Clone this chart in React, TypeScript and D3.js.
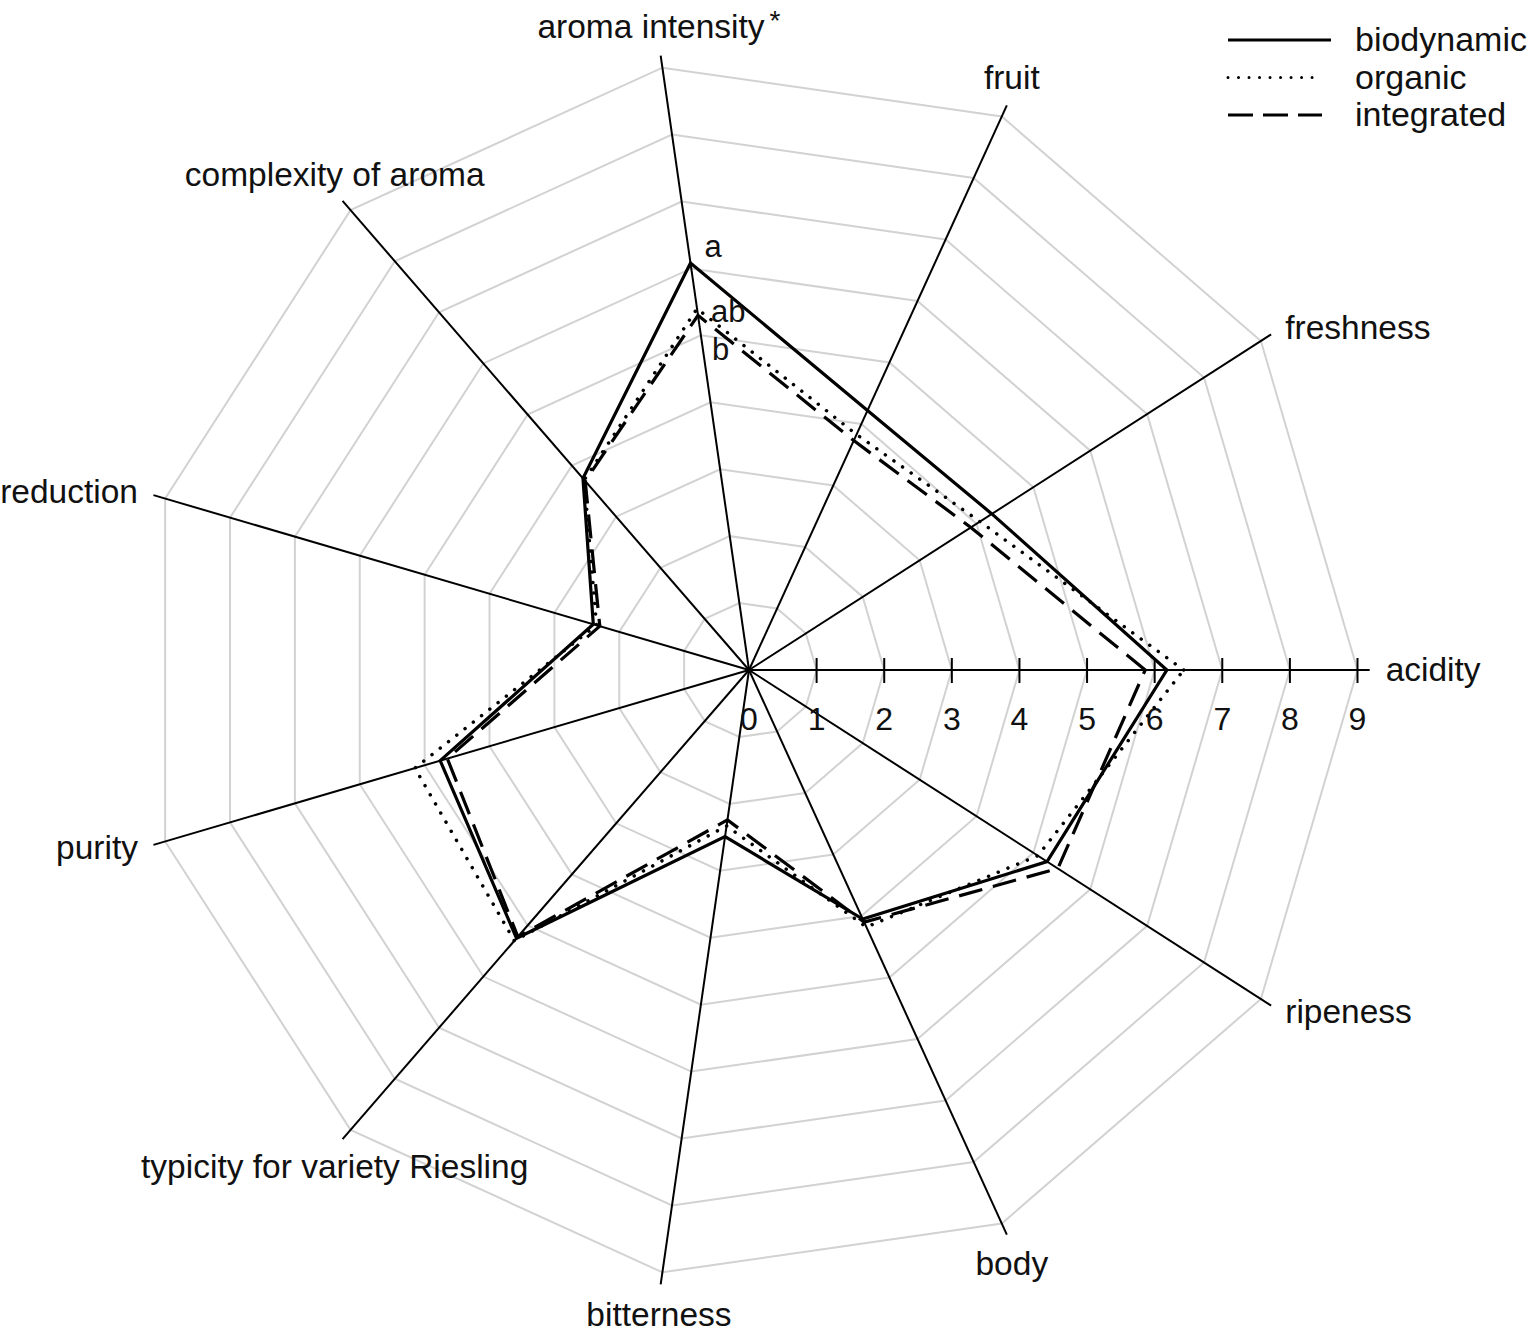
import { lineRadial, curveLinearClosed, scaleLinear, range } from "d3";

const categories = [
  "acidity",
  "freshness",
  "fruit",
  "aroma intensity",
  "complexity of aroma",
  "reduction",
  "purity",
  "typicity for variety Riesling",
  "bitterness",
  "body",
  "ripeness",
];
const biodynamic = [6.18, 4.27, 4.22, 6.08, 3.75, 2.4, 4.76, 5.25, 2.49, 4.05, 5.24];
const organic = [6.43, 4.06, 3.83, 5.4, 3.72, 2.35, 5.15, 5.3, 2.33, 4.18, 5.08];
const integrated = [5.86, 3.9, 3.73, 5.3, 3.7, 2.3, 4.65, 5.22, 2.24, 4.1, 5.43];
const seriesNames = ["biodynamic", "organic", "integrated"];
const tickValues = [0, 1, 2, 3, 4, 5, 6, 7, 8, 9];
// significance letters at aroma intensity
const letters = ["a", "ab", "b"];

const W = 1534,
  H = 1334;
const cx = 749,
  cy = 670;
const FONT = "'Liberation Sans', Arial, sans-serif";

export default function App() {
  const n = categories.length;
  const r = scaleLinear().domain([0, 9]).range([0, 608.5]);
  const step = (2 * Math.PI) / n;
  // theta counterclockwise from 3 o'clock
  const theta = (i: number) => i * step;
  const pt = (i: number, v: number): [number, number] => [
    cx + r(v) * Math.cos(theta(i)),
    cy - r(v) * Math.sin(theta(i)),
  ];
  // lineRadial angle: clockwise from 12 o'clock
  const radial = lineRadial<number>()
    .angle((_d, i) => Math.PI / 2 - theta(i))
    .radius((d) => r(d))
    .curve(curveLinearClosed);

  const styles = [
    { dash: undefined, cap: "butt" },
    { dash: "0.01 10.5", cap: "round" },
    { dash: "24 11", cap: "butt" },
  ];
  const series = [biodynamic, organic, integrated];
  const axisMax = 9.18;

  const letterDy = [-6, 13, 45];

  return (
    <svg width={W} height={H} style={{ position: "absolute", left: 0, top: 0, background: "#fff" }}>
      {/* rings */}
      <g transform={`translate(${cx},${cy})`}>
        {range(1, 10).map((k) => (
          <path
            key={k}
            d={radial(range(n).map(() => k)) || ""}
            fill="none"
            stroke="#d2d2d2"
            strokeWidth={2}
          />
        ))}
      </g>
      {/* axes */}
      {categories.map((_c, i) => {
        const [x, y] = pt(i, axisMax);
        return <line key={i} x1={cx} y1={cy} x2={x} y2={y} stroke="#000" strokeWidth={2} />;
      })}
      {/* ticks on acidity axis */}
      {tickValues.map((t) => (
        <g key={t}>
          {t > 0 && (
            <line x1={cx + r(t)} x2={cx + r(t)} y1={cy - 12} y2={cy + 13} stroke="#000" strokeWidth={2} />
          )}
          <text x={cx + r(t)} y={cy + 60} textAnchor="middle" fontFamily={FONT} fontSize={32} fill="#111">
            {t}
          </text>
        </g>
      ))}
      {/* series */}
      <g transform={`translate(${cx},${cy})`}>
        {series.map((s, k) => (
          <path
            key={k}
            d={radial(s) || ""}
            fill="none"
            stroke="#000"
            strokeWidth={k === 1 ? 3.5 : 3.2}
            strokeDasharray={styles[k].dash}
            strokeLinecap={styles[k].cap as any}
            strokeLinejoin="miter"
          />
        ))}
      </g>
      {/* significance letters */}
      {series.map((s, k) => {
        const [x, y] = pt(3, s[3]);
        return (
          <text key={k} x={x + 14} y={y + letterDy[k]} fontFamily={FONT} fontSize={31} fill="#111">
            {letters[k]}
          </text>
        );
      })}
      {/* category labels */}
      {categories.map((c, i) => {
        const [x, y] = pt(i, axisMax + 12 / r(1));
        const cs = Math.cos(theta(i));
        const sn = Math.sin(theta(i));
        let anchor = "middle";
        let ty = y;
        let tx = x;
        if (Math.abs(cs) > 0.7) {
          anchor = cs > 0 ? "start" : "end";
          tx = x + (cs > 0 ? 4 : -4);
          ty = y + 11;
        } else if (sn > 0) {
          ty = y - 6;
        } else {
          ty = y + 30;
        }
        return (
          <text key={c} x={tx} y={ty} textAnchor={anchor} fontFamily={FONT} fontSize={33.5} fill="#111">
            {c}
            {i === 3 && (
              <tspan fontSize={28} dx={5} dy={-8}>
                *
              </tspan>
            )}
          </text>
        );
      })}
      {/* legend */}
      {seriesNames.map((name, k) => {
        const y = 40 + k * 37.5;
        return (
          <g key={name}>
            <line
              x1={1228}
              x2={k === 0 ? 1331 : 1322}
              y1={y}
              y2={y}
              stroke="#000"
              strokeWidth={k === 1 ? 3 : 3.2}
              strokeDasharray={k === 2 ? "25 10" : styles[k].dash}
              strokeLinecap={styles[k].cap as any}
            />
            <text x={1355} y={y + 11} fontFamily={FONT} fontSize={34} fill="#111">
              {name}
            </text>
          </g>
        );
      })}
    </svg>
  );
}
